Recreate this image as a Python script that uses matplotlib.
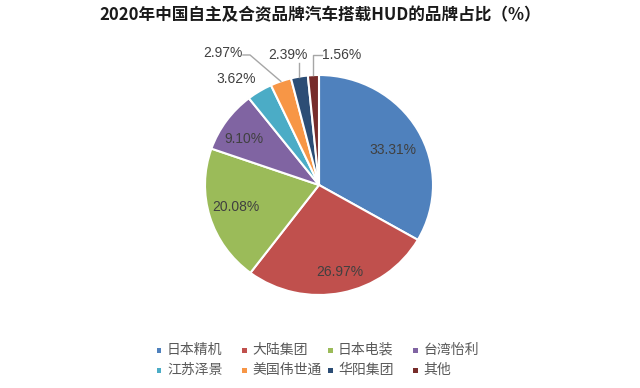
import numpy as np
import matplotlib.pyplot as plt
from matplotlib.patches import Rectangle

plt.rcParams['font.family'] = ['Noto Sans CJK SC', 'DejaVu Sans']

# 数据
brands = ['日本精机', '大陆集团', '日本电装', '台湾怡利', '江苏泽景', '美国伟世通', '华阳集团', '其他']
shares = [33.31, 26.97, 20.08, 9.10, 3.62, 2.97, 2.39, 1.56]
colors = ['#4F81BD', '#C0504D', '#9BBB59', '#8064A2', '#4BACC6', '#F79646', '#2C4D75', '#772C2A']
title = '2020年中国自主及合资品牌汽车搭载HUD的品牌占比（%）'

# 标签位置（饼图坐标）
label_pos = [(0.649, 0.318), (0.184, -0.79), (-0.728, -0.2), (-0.658, 0.418),
             (-0.728, 0.964), (-0.842, 1.2), (-0.272, 1.182), (0.202, 1.182)]

W, H = 640, 388
fig = plt.figure(figsize=(W / 100, H / 100), dpi=100)
ax = fig.add_axes([205 / W, (H - 295) / H, 228 / W, 220 / H])

wedges, _ = ax.pie(shares, colors=colors, startangle=90, counterclock=False,
                   wedgeprops=dict(edgecolor='white', linewidth=1.5))
ax.set_xlim(-1, 1)
ax.set_ylim(-1, 1)
ax.set_aspect('auto')
ax.axis('off')

for v, (x, y) in zip(shares, label_pos):
    ax.text(x, y, f'{v:.2f}%', ha='center', va='center', fontsize=10,
            family=['Liberation Sans'], color='#404040', clip_on=False)


def edge(w):
    a = np.deg2rad((w.theta1 + w.theta2) / 2)
    return np.cos(a), np.sin(a)


# 引导线
line_kw = dict(color='#a6a6a6', lw=1, clip_on=False)
ex, ey = edge(wedges[5])
ax.plot([-0.667, -0.605, ex], [1.182, 1.182, ey], **line_kw)
ex, ey = edge(wedges[6])
ax.plot([ex, ex], [1.11, ey], **line_kw)
ex, ey = edge(wedges[7])
ax.plot([0.026, ex, ex], [1.182, 1.182, ey], **line_kw)

fig.text(0.5, 1 - 15 / H, title, ha='center', va='center', fontsize=12,
         fontweight='bold', color='#1a1a1a')

# 图例：4列2行，等宽
for i, (name, c) in enumerate(zip(brands, colors)):
    row, col = divmod(i, 4)
    mx = 159 + 85.5 * col
    my = 350 + 20 * row
    fig.patches.append(Rectangle(((mx - 2.5) / W, (H - my - 2.5) / H), 5 / W, 5 / H,
                                 transform=fig.transFigure, facecolor=c,
                                 edgecolor='none'))
    fig.text((mx + 8) / W, (H - my) / H, name, ha='left', va='center',
             fontsize=10, color='#595959')

fig.savefig('out.png', dpi=100)
